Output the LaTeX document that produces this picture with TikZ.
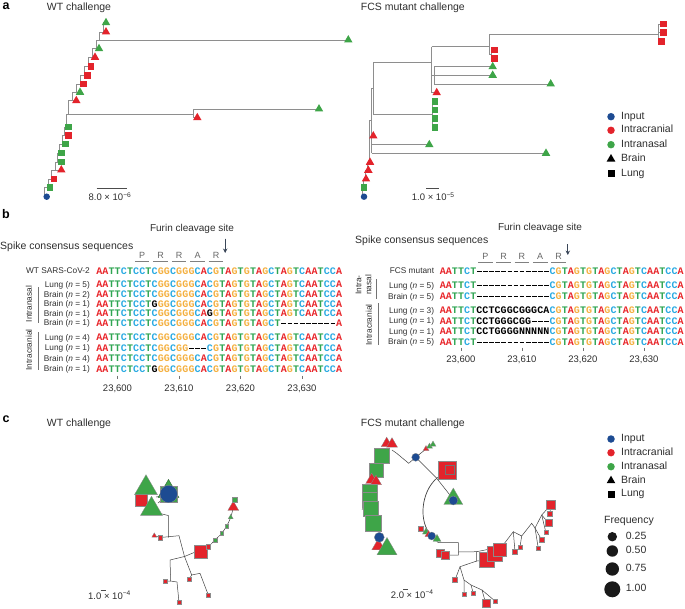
\documentclass[tikz,border=0pt]{standalone}
\usepackage{fontspec}
\setmainfont{Liberation Sans}
\newfontfamily\seqff{Liberation Mono}
\usetikzlibrary{shapes.geometric,arrows.meta}
\definecolor{cR}{HTML}{E3232B}
\definecolor{cG}{HTML}{3EA548}
\definecolor{cB}{HTML}{1D4B92}
\definecolor{nA}{HTML}{E8262B}
\definecolor{nT}{HTML}{2FA552}
\definecolor{nC}{HTML}{2AAAE2}
\definecolor{nG}{HTML}{F4B040}
\definecolor{txt}{HTML}{2E2E2E}
\definecolor{tree}{HTML}{8E8E8E}
\definecolor{arrowc}{HTML}{3A4658}
\newlength\cw
\setlength\cw{6.15pt}
\def\seqEnd{SEQEND}
\def\seqrun#1{\ifx#1\seqEnd\else\seqchar{#1}\expandafter\seqrun\fi}
\newcommand\seq[1]{\seqrun#1\seqEnd}
\def\seqchar#1{\makebox[\cw][c]{\seqcol#1}}
\def\seqcol#1{%
 \ifx#1A\textcolor{nA}{A}\else
 \ifx#1T\textcolor{nT}{T}\else
 \ifx#1C\textcolor{nC}{C}\else
 \ifx#1G\textcolor{nG}{G}\else
 \ifx#1-\rule[2.5pt]{4.7pt}{1.1pt}\else
 \uppercase{#1}\fi\fi\fi\fi\fi}
\begin{document}
\begin{tikzpicture}[x=1pt,y=-1pt,
  txt/.style={inner sep=0, text=txt, font=\fontsize{10.5}{12}\selectfont},
  lab/.style={inner sep=0, text=txt, font=\fontsize{8.3}{9.5}\selectfont},
  sml/.style={inner sep=0, text=txt, font=\fontsize{9.5}{11}\selectfont},
  seqrow/.style={inner sep=0, font=\seqff\bfseries\fontsize{10}{10}\selectfont},
  panel/.style={inner sep=0, text=black, font=\bfseries\fontsize{12.5}{12}\selectfont},
  mk/.style={inner sep=0, outer sep=0, draw=none},
  atri/.style={mk, regular polygon, regular polygon sides=3, minimum size=9.8},
  asq/.style={mk, rectangle, minimum size=6.8},
  adot/.style={mk, circle, minimum size=6.5},
  ldot/.style={mk, circle, minimum size=7.5},
  ltri/.style={mk, regular polygon, regular polygon sides=3, minimum size=10},
  lsq/.style={mk, rectangle, minimum size=7},
  ctri/.style={mk, regular polygon, regular polygon sides=3, minimum size=1.1547*#1, draw=black!45, line width=0.3},
  csq/.style={mk, rectangle, minimum size=#1, draw=black!45, line width=0.3},
  cdot/.style={mk, circle, minimum size=#1, draw=black!45, line width=0.3},
  tl/.style={draw=tree, line width=0.8},
  cl/.style={draw=black!75, line width=0.5},
  bar/.style={draw=black!70, line width=0.7},
  tick/.style={draw=black!55, line width=0.5},
  cod/.style={draw=black!50, line width=0.6},
]
\useasboundingbox (0,0) rectangle (685,608);

% ================= panel a =================
\node[panel] (pa) at (6,6) {a};
\node[txt] (tWTa) at (79,7.8) {WT challenge};
\node[txt, anchor=west] (tFCSa) at (360.7,7.8) {FCS mutant challenge};

% left tree lines
\foreach \sx/\ya/\yb/\xe in {44.5/196.7/187.7/50, 48/187.7/179/54, 51.5/179/170/61.3, 55.5/170/162/61.3, 57.5/162/153/61.3, 59.5/153/144/65.3, 62/144/135.3/68.7, 64.5/135.3/127/68.7, 66.5/127/114.7/193.3, 68.3/114.7/100.7/76.3, 72.5/100.7/92.3/80, 76.5/92.3/84/83.7, 80/84/75.3/87.7, 84/75.3/66.7/91, 88/66.7/57.3/95, 92/57.3/48.7/99, 96/48.7/40/348.3, 99.3/40/32/106, 103/32/22.7/106}
  \draw[tl] (\sx,\ya) -- (\sx,\yb) -- (\xe,\yb);
\draw[tl] (193.3,109) -- (193.3,117.7) -- (197.3,117.7) (193.3,109) -- (319,109);
% left tree leaves
\foreach \x/\y/\s/\c [count=\i] in {106/22.7/atri/cG, 106/32/atri/cR, 348.3/40/atri/cG, 99/48.7/atri/cG, 95/57.3/atri/cR, 91/66.7/asq/cR, 87.7/75.3/asq/cR, 83.7/84/asq/cR, 80/92.3/atri/cG, 76.3/100.7/atri/cR, 319/109/atri/cG, 197.3/117.7/atri/cR, 68.7/127/asq/cG, 68.7/135.3/asq/cR, 65.3/144/asq/cG, 61.3/153/asq/cG, 61.3/162/asq/cG, 61.3/170/atri/cR, 54/179/asq/cR, 50/187.7/asq/cG, 46.7/196.7/adot/cB}
  \node[\s, fill=\c] (aw\i) at (\x,\y) {};

% right tree lines
\draw[tl] (658.5,24) -- (658.5,41.3);
\foreach \y/\x in {24/663.3, 32.7/663.3, 41.3/661.7} \draw[tl] (658.5,\y) -- (\x,\y);
\draw[tl] (489,34) -- (658.5,34);
\draw[tl] (489,34) -- (489,54.3) -- (491,54.3);
\draw[tl] (491,50) -- (491,58.7);
\draw[tl] (491,50) -- (494.3,50) (491,58.7) -- (494.3,58.7);
\draw[tl] (431.7,46.7) -- (489,46.7);
\draw[tl] (431.7,46.7) -- (431.7,92.7) -- (436.7,92.7);
\draw[tl] (431.7,75) -- (434,75);
\draw[tl] (434,66.7) -- (434,84);
\draw[tl] (434,66.7) -- (492.7,66.7) (434,75.3) -- (492.7,75.3) (434,84) -- (550.7,84);
\draw[tl] (373.3,62) -- (431.7,62);
\draw[tl] (373.3,62) -- (373.3,114.7) -- (432,114.7);
\draw[tl] (432,101.7) -- (432,127.3);
\foreach \y in {101.7,110,118.7,127.3} \draw[tl] (432,\y) -- (435,\y);
\draw[tl] (371.7,88) -- (373.3,88);
\draw[tl] (371.7,88) -- (371.7,153.3);
\draw[tl] (371.7,136) -- (373.3,136) (371.7,144.7) -- (429.3,144.7) (371.7,153.3) -- (546,153.3);
\draw[tl] (362,196.7) -- (362,187.7) -- (364,187.7);
\draw[tl] (363,187.7) -- (363,179) -- (366,179);
\draw[tl] (365,179) -- (365,170.3) -- (368.3,170.3);
\draw[tl] (367,170.3) -- (367,162.3) -- (370,162.3);
\draw[tl] (369,162.3) -- (369,120) -- (371.7,120);
% right tree leaves
\foreach \x/\y/\s/\c [count=\i] in {663.3/24/asq/cR, 663.3/32.7/asq/cR, 661.7/41.3/asq/cR, 494.3/50/asq/cR, 494.3/58.7/asq/cR, 492.7/66.7/atri/cG, 492.7/75.3/atri/cG, 550.7/84/atri/cG, 436.7/92.7/atri/cR, 435/101.7/asq/cG, 435/110/asq/cG, 435/118.7/asq/cG, 435/127.3/asq/cG, 373.3/136/atri/cR, 429.3/144.7/atri/cG, 546/153.3/atri/cG, 370/162.3/atri/cR, 368.3/170.3/atri/cR, 366/179/atri/cR, 364/187.7/asq/cG, 364/196.7/adot/cB}
  \node[\s, fill=\c] (af\i) at (\x,\y) {};

% scale bars a
\coordinate (sbL1) at (96.7,188.3); \coordinate (sbL2) at (126.7,188.3);
\draw[bar] (sbL1) -- (sbL2);
\node[sml] (sbLt) at (110,196.7) {8.0 × 10\textsuperscript{−6}};
\coordinate (sbR1) at (426,188.3); \coordinate (sbR2) at (439.3,188.3);
\draw[bar] (sbR1) -- (sbR2);
\node[sml] (sbRt) at (433.3,196.7) {1.0 × 10\textsuperscript{−5}};

% legend a
\foreach \y/\t/\s/\c [count=\i] in {116.7/Input/ldot/cB, 130.3/Intracranial/ldot/cR, 144.7/Intranasal/ldot/cG, 159/Brain/ltri/black, 173.7/Lung/lsq/black}
{ \node[\s, fill=\c] (lam\i) at (611,\y) {};
  \node[txt, anchor=mid west] (lat\i) at (621,\y) {\t}; }

% ================= panel b =================
\node[panel] (pb) at (6,214) {b};
% left
\node[txt, font=\fontsize{10}{12}\selectfont] (furL) at (192,229) {Furin cleavage site};
\node[txt, anchor=mid west] (spkL) at (0,246.7) {Spike consensus sequences};
\coordinate (arL1) at (225.2,238.5); \coordinate (arL2) at (225.2,253);
\draw[-{Stealth[length=4.5pt,width=4.5pt]}, line width=1, draw=arrowc, fill=arrowc] (arL1) -- (arL2);
\foreach \x/\l in {142.1/P,160.6/R,179.1/R,197.5/A,216/R}
{ \node[lab, text=black!60, font=\fontsize{9}{10}\selectfont] at (\x,255.5) {\l};
  \draw[cod] (\x-7.3,261.5) -- (\x+7.3,261.5); }
\foreach \y/\l/\s [count=\i] in {
 270.7/WT SARS-CoV-2/AATTCTCCTCGGCGGGCACGTAGTGTAGCTAGTCAATCCA,
 284/Lung (\textit{n} = 5)/AATTCTCCTCGGCGGGCACGTAGTGTAGCTAGTCAATCCA,
 294.3/Brain (\textit{n} = 2)/AATTCTCCTCGGCGGGCACGTAGTGTAGCTAGTCAATCCA,
 303.7/Brain (\textit{n} = 1)/AATTCTCCTgGGCGGGCACGTAGTGTAGCTAGTCAATCCA,
 313.3/Brain (\textit{n} = 1)/AATTCTCCTCGGCGGGCAgGTAGTGTAGCTAGTCAATCCA,
 322.7/Brain (\textit{n} = 1)/AATTCTCCTCGGCGGGCACGTAGTGTAGCT---------A,
 337/Lung (\textit{n} = 4)/AATTCTCCTCGGCGGGCACGTAGTGTAGCTAGTCAATCCA,
 347.6/Lung (\textit{n} = 1)/AATTCTCCTCGGCGG---CGTAGTGTAGCTAGTCAATCCA,
 358.1/Brain (\textit{n} = 4)/AATTCTCCTCGGCGGGCACGTAGTGTAGCTAGTCAATCCA,
 368.7/Brain (\textit{n} = 1)/AATTCTCCTgGGCGGGCACGTAGTGTAGCTAGTCAATCCA}
{ \node[lab, anchor=base east] (ll\i) at (90,\y+3) {\l};
  \node[seqrow, anchor=base west] (sl\i) at (96,\y+3.5) {\setlength\cw{6.15pt}\expandafter\seq\expandafter{\s}}; }
\node[lab, rotate=90] (gInL) at (29,304) {Intranasal};
\draw[tick, line width=0.7] (38,287) -- (38,323);
\node[lab, rotate=90] (gIcL) at (29,350) {Intracranial};
\draw[tick, line width=0.7] (38,332) -- (38,370);
\foreach \x/\n in {117.5/23{,}600, 179/23{,}610, 240.5/23{,}620, 302/23{,}630}
{ \draw[tick] (\x,375.5) -- (\x,378.5);
  \node[sml] at (\x,388.3) {\n}; }

% right
\node[txt, font=\fontsize{10}{12}\selectfont] (furR) at (540,228) {Furin cleavage site};
\node[txt, anchor=mid west] (spkR) at (355,240.7) {Spike consensus sequences};
\coordinate (arR1) at (567.8,244); \coordinate (arR2) at (567.8,255);
\draw[-{Stealth[length=4.5pt,width=4.5pt]}, line width=1, draw=arrowc, fill=arrowc] (arR1) -- (arR2);
\foreach \x/\l in {485.3/P,503.6/R,521.9/R,540.2/A,558.5/R}
{ \node[lab, text=black!60, font=\fontsize{9}{10}\selectfont] at (\x,256) {\l};
  \draw[cod] (\x-7.3,262) -- (\x+7.3,262); }
\foreach \y/\l/\s [count=\i] in {
 270.7/FCS mutant/AATTCT------------CGTAGTGTAGCTAGTCAATCCA,
 285/Lung (\textit{n} = 5)/AATTCT------------CGTAGTGTAGCTAGTCAATCCA,
 296/Brain (\textit{n} = 5)/AATTCT------------CGTAGTGTAGCTAGTCAATCCA,
 310/Lung (\textit{n} = 3)/AATTCTcctcggcgggcaCGTAGTGTAGCTAGTCAATCCA,
 320.7/Lung (\textit{n} = 1)/AATTCTcctgggcgg---CGTAGTGTAGCTAGTCAATCCA,
 331/Lung (\textit{n} = 1)/AATTCTcctggggnnnnnCGTAGTGTAGCTAGTCAATCCA,
 341.7/Brain (\textit{n} = 5)/AATTCT------------CGTAGTGTAGCTAGTCAATCCA}
{ \node[lab, anchor=base east] (rl\i) at (434.3,\y+3) {\l};
  \node[seqrow, anchor=base west] (sr\i) at (439.5,\y+3.5) {\setlength\cw{6.1pt}\expandafter\seq\expandafter{\s}}; }
\node[lab, rotate=90, align=center, font=\fontsize{8.3}{10}\selectfont] (gInR) at (363.5,285) {Intra-\\nasal};
\draw[tick, line width=0.7] (376,279) -- (376,299);
\node[lab, rotate=90] (gIcR) at (369,325) {Intracranial};
\draw[tick, line width=0.7] (378,303) -- (378,345);
\foreach \x/\n in {460.9/23{,}600, 521.9/23{,}610, 582.9/23{,}620, 643.9/23{,}630}
{ \draw[tick] (\x,347.5) -- (\x,350.5);
  \node[sml] at (\x,359.5) {\n}; }

% ================= panel c =================
\node[panel] (pc) at (6,419.5) {c};
\node[txt, anchor=west] (tWTc) at (46.7,423.5) {WT challenge};
\node[txt, anchor=west] (tFCSc) at (360.7,424) {FCS mutant challenge};

% --- WT radial tree
\draw[cl] (158,513) -- (168.3,515.5) -- (168.3,537.5);
\draw[cl] (154.3,535.7) -- (160.3,537.5) -- (179,535.7);
\draw[cl] (179,535.7) -- (184.5,556.5) -- (191.7,575);
\draw[cl] (184.5,556.5) -- (170,560) -- (170.7,581) -- (165,581);
\draw[cl] (170.7,581) -- (177,582) -- (179,602.3);
\draw[cl] (184.5,556.5) -- (196,551.7);
\draw[cl] (191.7,575) -- (189.3,579);
\draw[cl] (191.7,575) -- (200,573.3) -- (208.3,595);
\draw[cl] plot[smooth] coordinates {(201,551.7) (208.3,546.7) (215,540) (221.7,533.3) (226.7,526) (230.7,517.3) (233.3,507.3) (234.7,499.3)};
\draw[cl] (156,497) -- (162,496) (158,503) -- (163,499);
\node[csq=12, fill=cR] (w1) at (141.5,500) {};
\node[ctri=23, fill=cG] (w5) at (146,488) {};
\node[ctri=22, fill=cG] (w6) at (151.5,509) {};
\node[ctri=21, fill=cG, draw=black!50!cG] (w2) at (168.5,491.5) {};
\node[csq=16.5, fill=cG] (w3) at (168.7,494) {};
\node[cdot=17.5, fill=cB] (w4) at (168.7,494) {};
\node[ctri=5, fill=cR] (w7) at (154.3,535.7) {};
\node[csq=4.5, fill=cR] (w8) at (160.3,537.5) {};
\node[csq=4.5, fill=cR] (w9) at (165,581) {};
\node[csq=4.5, fill=cR] (w10) at (179,602.3) {};
\node[csq=13, fill=cR] (w11) at (201,551.7) {};
\node[csq=4.5, fill=cR] (w12) at (189.3,579) {};
\node[csq=4, fill=cR] (w13) at (208.3,595) {};
\node[csq=4.5, fill=cR] (w14) at (208.3,546.7) {};
\node[csq=3.5, fill=cG] (w15) at (215,540) {};
\node[csq=3.5, fill=cG] (w16) at (221.7,533.3) {};
\node[csq=3.5, fill=cG] (w17) at (226.7,526) {};
\node[ctri=5, fill=cG] (w18) at (230.7,517.3) {};
\node[ctri=11, fill=cR] (w19) at (233.3,507.3) {};
\node[csq=5, fill=cG] (w20) at (234.7,499.3) {};
\coordinate (scW1) at (100.5,590.7); \coordinate (scW2) at (105.5,590.7);
\draw[bar] (scW1) -- (scW2);
\node[sml, anchor=mid west] (scWt) at (88,597) {1.0 × 10\textsuperscript{−4}};

% --- FCS radial tree
\draw[cl] (392,450) -- (396.7,453.3) -- (408.7,463.3) -- (415.7,457.3);
\draw[cl] (415.7,457.3) -- (426,449);
\draw[cl] (415.7,457.3) -- (436.7,478.3) -- (446.7,470);
\draw[cl] (436.7,478.3) -- (453.3,499.3);
\draw[cl, line width=0.7] (436.7,478.3) .. controls (421,492) and (418,522) .. (431.7,536);
\draw[cl] (431.7,536) -- (438.3,542.7) -- (458.3,542.7) -- (458.3,555) -- (445,555);
\draw[cl] (458.3,552) -- (476.7,551.7) -- (476.7,561) -- (486.7,560);
\draw[cl] (476.7,551.7) -- (490,549) -- (499.3,550);
\draw[cl] (476.7,561) -- (460,566.7) -- (455,580);
\draw[cl] (460,566.7) -- (464,580) -- (464,594);
\draw[cl] (464,580) -- (471,585) -- (473.3,593.3);
\draw[cl] (471,585) -- (482,590) -- (485.7,603.3);
\draw[cl] (482,590) -- (495,601);
\draw[cl] (499.3,550) -- (513.3,531.7) -- (521.7,536) -- (531.7,523.3) -- (535,528) -- (541.7,515) -- (550.7,505);
\draw[cl] (513.3,531.7) -- (515,551.7);
\draw[cl] (521.7,536) -- (520,546.7);
\draw[cl] (535,528) -- (538.3,548.3);
\draw[cl] (535,528) -- (541.7,540);
\draw[cl] (541.7,515) -- (545.7,531.7);
\draw[cl] (541.7,515) -- (548.3,522.7);
\draw[cl] (550.7,505) -- (550,513.3);
% left arc cluster
\node[ctri=11, fill=cR] (f1) at (386.7,443.5) {};
\node[ctri=11, fill=cR] (f2) at (392,444) {};
\node[csq=15, fill=cG] (f3) at (381.7,455.5) {};
\node[csq=14, fill=cG] (f4) at (376,470) {};
\node[ctri=12, fill=cR] (f5) at (371.7,480) {};
\node[ctri=11, fill=cR] (f5b) at (376,481.5) {};
\node[ctri=12, fill=cG] (f6) at (368,506) {};
\node[csq=15, fill=cG] (f7) at (370,491.7) {};
\node[csq=15, fill=cG] (f8) at (370,500) {};
\node[csq=15, fill=cG] (f9) at (370.5,508.3) {};
\node[csq=16, fill=cG] (f10) at (373.3,523.5) {};
\node[ctri=13, fill=cR] (f11) at (378.3,546) {};
\node[cdot=10, fill=cB] (f12) at (379.3,537.3) {};
\node[ctri=20, fill=cG] (f13) at (387,549) {};
% upper middle
\node[cdot=8, fill=cB] (f14) at (415.7,457.3) {};
\node[ctri=6, fill=cR] (f15) at (426,449) {};
\node[ctri=6, fill=cG] (f16) at (429.5,446.5) {};
\node[ctri=6, fill=cG] (f17) at (433,444.5) {};
\node[csq=18, fill=cR] (f18) at (446.7,470.5) {};
\node[csq=9, fill=cR, draw=black!55] (f19) at (450,470) {};
\node[ctri=19, fill=cG] (f20) at (453.3,499) {};
\node[cdot=9, fill=cB] (f21) at (453.3,500.5) {};
% lower middle
\node[csq=5, fill=cR] (f22) at (420.7,528.3) {};
\node[ctri=7, fill=cG] (f23) at (426,532) {};
\node[ctri=7, fill=cR] (f24) at (428.5,534.5) {};
\node[cdot=8, fill=cB] (f25) at (431.7,536) {};
\node[ctri=8, fill=cG] (f26) at (437,539) {};
\node[csq=8, fill=cR] (f27) at (440,553.3) {};
\node[csq=8, fill=cR] (f28) at (445,555) {};
\node[csq=15, fill=cR] (f29) at (486.7,560) {};
\node[csq=15, fill=cR] (f30) at (495,554) {};
\node[csq=13, fill=cR] (f31) at (499.3,550) {};
\node[csq=5, fill=cR] (f32) at (455,580) {};
\node[csq=4, fill=cR] (f33) at (464,594) {};
\node[csq=4, fill=cR] (f34) at (473.3,593.3) {};
\node[csq=8, fill=cR] (f35) at (485.7,603.3) {};
\node[csq=4, fill=cR] (f36) at (495,601) {};
\node[csq=5, fill=cR] (f37) at (515,551.7) {};
\node[csq=4, fill=cR] (f38) at (520,546.7) {};
\node[csq=4, fill=cR] (f39) at (538.3,548.3) {};
\node[csq=5, fill=cR] (f40) at (541.7,540) {};
\node[csq=4, fill=cR] (f41) at (545.7,531.7) {};
\node[csq=7, fill=cR] (f42) at (548.3,522.7) {};
\node[csq=5, fill=cR] (f43) at (550,513.3) {};
\node[csq=9, fill=cR] (f44) at (550.7,505) {};
\coordinate (scF1) at (403,589.5); \coordinate (scF2) at (408,589.5);
\draw[bar] (scF1) -- (scF2);
\node[sml, anchor=mid west] (scFt) at (390.7,596) {2.0 × 10\textsuperscript{−4}};

% legend c
\foreach \y/\t/\s/\c [count=\i] in {439/Input/ldot/cB, 452.7/Intracranial/ldot/cR, 466.7/Intranasal/ldot/cG, 480.7/Brain/ltri/black, 494/Lung/lsq/black}
{ \node[\s, fill=\c] (lcm\i) at (611,\y) {};
  \node[txt, anchor=mid west] (lct\i) at (621,\y) {\t}; }
\node[txt, anchor=mid west] (freq) at (604,520.7) {Frequency};
\foreach \y/\d/\t [count=\i] in {536.7/9.4/0.25, 551/11.4/0.50, 569/13.4/0.75, 589.3/16/1.00}
{ \node[mk, circle, minimum size=\d, fill=black!90] (fq\i) at (612.3,\y) {};
  \node[txt, anchor=mid west] (fqt\i) at (625.7,\y) {\t}; }
\end{tikzpicture}
\end{document}
